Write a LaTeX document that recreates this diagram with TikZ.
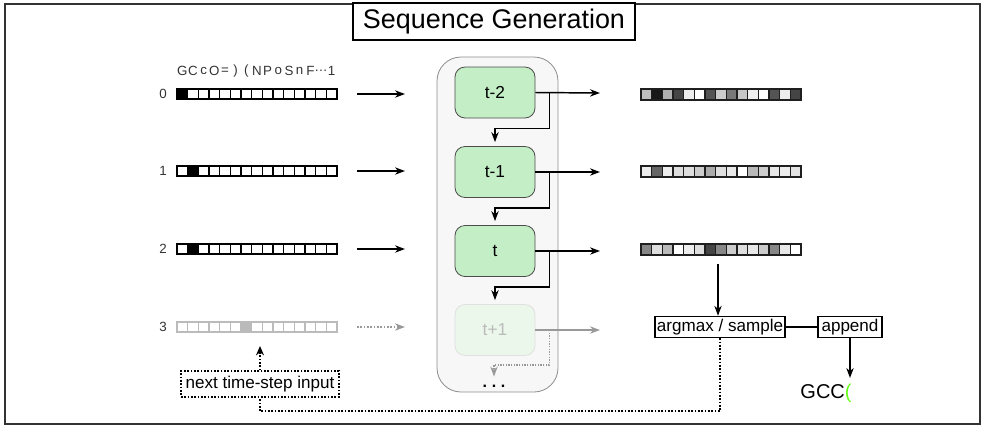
\documentclass[tikz,border=0pt]{standalone}
\usepackage{fontspec}
\setmainfont{Liberation Sans}
\usetikzlibrary{arrows.meta,calc}
\definecolor{boxgreen}{HTML}{C4EEC6}
\definecolor{ghostgreen}{HTML}{EBF7EB}
\definecolor{contfill}{HTML}{F7F7F7}
\definecolor{brightgreen}{HTML}{66FF1A}
\definecolor{framegray}{HTML}{333333}
\definecolor{txtgray}{HTML}{333333}
\definecolor{ghost}{HTML}{BBBBBB}
\newcommand\myopenp{(}
\newcommand\myclosep{)}
\begin{document}
\begin{tikzpicture}[x=0.75pt,y=-0.75pt,
  arr/.style={line width=1.1pt,-{Stealth[length=7.5pt,width=5.5pt]}},
  ghostarr/.style={line width=0.9pt,draw=black!40,-{Stealth[length=7.5pt,width=5.5pt]}},
  incell/.style={draw=black,line width=0.8pt,minimum width=8pt,minimum height=7.5pt,inner sep=0pt},
  ghostcell/.style={draw=ghost,line width=0.8pt,minimum width=8pt,minimum height=7.5pt,inner sep=0pt},
  outcell/.style={draw=black!88,line width=1.2pt,minimum width=8pt,minimum height=8.25pt,inner sep=0pt},
  lbl/.style={text=txtgray,font=\fontsize{10pt}{12pt}\selectfont,inner sep=0pt},
  cellbox/.style={draw=black!70,line width=0.6pt,fill=boxgreen,rounded corners=7.5pt,minimum width=60pt,minimum height=38.25pt,font=\fontsize{13pt}{15pt}\selectfont},
  opbox/.style={draw=black,line width=1.1pt,fill=white,inner sep=0pt,minimum height=15.75pt,font=\fontsize{12.8pt}{14pt}\selectfont},
  dotline/.style={line width=1.5pt,dash pattern=on 1.2pt off 1.3pt},
]
\useasboundingbox (0,0) rectangle (986,430);
% outer frame
\node[draw=framegray,line width=1.1pt,minimum width=731.25pt,minimum height=315pt,inner sep=0pt] (frame) at (492.5,214) {};
% title
\node[draw=black,line width=0.8pt,fill=white,minimum width=211.5pt,minimum height=27.75pt,inner sep=0pt,font=\fontsize{20.2pt}{22pt}\selectfont] (title) at (494,21.5) {Sequence Generation};

% header letters
\foreach \c [count=\i from 0] in {G,C,c,O,=,\myclosep,\myopenp,N,P,o,S,n,F,…,1}
  \node[lbl] (h-\i) at ({182.33+10.667*\i},71) {\c};

% row labels
\node[lbl] (r0) at (163,94) {0};
\node[lbl] (r1) at (163,171) {1};
\node[lbl] (r2) at (163,249) {2};
\node[lbl] (r3) at (163,327) {3};

% input bars
\foreach \i in {0,...,14}{
  \pgfmathtruncatemacro\pa{(\i==0)*100}
  \pgfmathtruncatemacro\pb{(\i==1)*100}
  \pgfmathtruncatemacro\pc{(\i==6)*27}
  \node[incell,fill=black!\pa] (in0-\i) at ({182.33+10.667*\i},94) {};
  \node[incell,fill=black!\pb] (in1-\i) at ({182.33+10.667*\i},171) {};
  \node[incell,fill=black!\pb] (in2-\i) at ({182.33+10.667*\i},249) {};
  \node[ghostcell,fill=black!\pc] (in3-\i) at ({182.33+10.667*\i},327) {};
}

% arrows into the network
\foreach \r/\y in {0/94,1/171,2/249}{
  \coordinate (ia\r) at (357,\y);
  \coordinate (ib\r) at (405,\y);
  \draw[arr] (ia\r) -- (ib\r);
}
\coordinate (ia3) at (357,327);
\coordinate (ib3) at (405,327);
\draw[ghostarr,dash pattern=on 1.2pt off 1.3pt,line width=1.3pt] (ia3) -- (ib3);

% container
\node[draw=black!45,line width=0.6pt,fill=contfill,rounded corners=18pt,minimum width=90.75pt,minimum height=251.25pt,inner sep=0pt] (cont) at (497.5,224.5) {};

% cells
\node[cellbox] (b0) at (495,92.5) {t-2};
\node[cellbox] (b1) at (495,172) {t-1};
\node[cellbox] (b2) at (495,251) {t};
\node[cellbox,fill=ghostgreen,draw=black!12,text=ghost] (b3) at (495,330) {t+1};
\node[font=\bfseries\fontsize{12pt}{13pt}\selectfont,inner sep=0pt] (dots) at (494,386) {.\hspace{3.5pt}.\hspace{3.5pt}.};

% outputs from cells
\foreach \r/\y in {0/93,1/172,2/251}{
  \coordinate (oa\r) at (600,\y);
  \draw[arr] (b\r.east) -- (oa\r);
}
\coordinate (oa3) at (600,330);
\draw[ghostarr] (b3.east) -- (oa3);

% recurrent connections
\draw[arr] ([xshift=10.5pt]b0.east) |- ([yshift=-7.5pt]b0.south) -| ([yshift=3pt]b1.north);
\draw[arr] ([xshift=10.5pt]b1.east) |- ([yshift=-7.5pt]b1.south) -| ([yshift=3pt]b2.north);
\draw[arr] ([xshift=10.5pt]b2.east) |- ([yshift=-7.5pt]b2.south) -| ([yshift=3pt]b3.north);
\draw[ghostarr,dash pattern=on 1pt off 1pt,line width=0.9pt] ([xshift=10.5pt]b3.east) |- ([yshift=-6.75pt]b3.south) -| ([yshift=6pt]dots.north);

% output bars
\foreach \g [count=\i from 0] in {25,90,31,73,7,0,67,20,53,22,6,0,67,7,73}
  \node[outcell,fill=black!\g] (out0-\i) at ({646.33+10.667*\i},94.5) {};
\foreach \g [count=\i from 0] in {7,60,7,13,13,20,33,13,9,0,28,20,9,7,11}
  \node[outcell,fill=black!\g] (out1-\i) at ({646.33+10.667*\i},171.5) {};
\foreach \g [count=\i from 0] in {47,13,27,0,7,13,73,47,20,13,9,20,47,9,0}
  \node[outcell,fill=black!\g] (out2-\i) at ({646.33+10.667*\i},249.5) {};

% argmax / append
\node[opbox,minimum width=97.5pt] (argmax) at (720,327) {argmax / sample};
\node[opbox,minimum width=48pt] (append) at (850,327) {append};
\draw[line width=1.1pt] (argmax) -- (append);
\coordinate (ot) at (718,264);
\draw[arr] (ot) -- (argmax.north -| ot);
\coordinate (gtip) at (850,378);
\draw[arr] (append) -- (gtip);
\node[font=\fontsize{15pt}{17pt}\selectfont,inner sep=0pt] (gcc) at (826,393) {GCC\textcolor{brightgreen}{(}};

% next time-step input
\node[draw=black,dotline,fill=white,minimum width=118.5pt,minimum height=19pt,inner sep=0pt,font=\fontsize{12.8pt}{14pt}\selectfont] (next) at (260,384) {next time-step input};
\draw[dotline] (argmax.south) -- ++(0,73) -| (next.south);
\coordinate (ntip) at (260,346);
\draw[dotline,-{Stealth[length=7pt,width=6pt]}] (next.north) -- (ntip);
\end{tikzpicture}
\end{document}
